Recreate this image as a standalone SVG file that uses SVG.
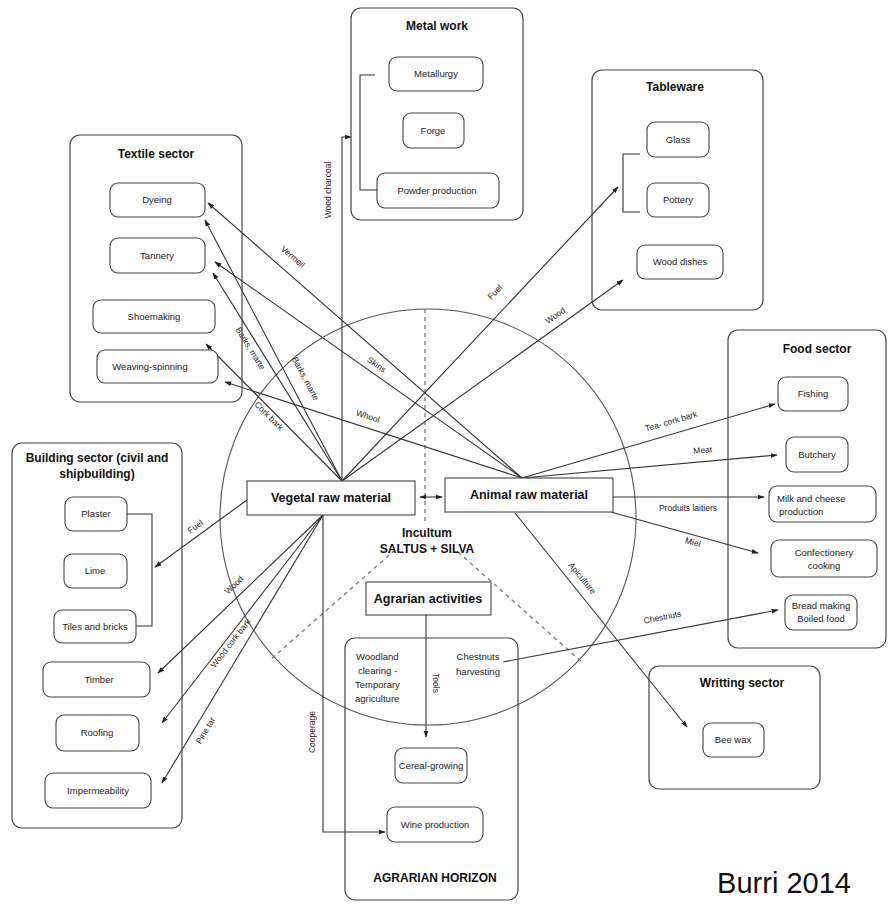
<svg xmlns="http://www.w3.org/2000/svg" width="892" height="905" viewBox="0 0 892 905">
<defs>
<marker id="ah" viewBox="0 0 10 10" refX="9" refY="5" markerWidth="7" markerHeight="7" orient="auto-start-reverse" markerUnits="userSpaceOnUse">
<path d="M0,1.5 L10,5 L0,8.5 z" fill="#222"/>
</marker>
<style>
.outer{fill:none;stroke:#444;stroke-width:1.2}
.inner{fill:#fff;stroke:#444;stroke-width:1.1}
.main{fill:#fff;stroke:#444;stroke-width:1.1}
.title{font-family:"Liberation Sans",Arial,sans-serif;font-weight:bold;font-size:12px;fill:#111;text-anchor:middle}
.big{font-family:"Liberation Sans",Arial,sans-serif;font-weight:bold;font-size:12.5px;fill:#111;text-anchor:middle}
.lbl{font-family:"Liberation Sans",Arial,sans-serif;font-size:9.5px;fill:#222;text-anchor:middle}
.cl{font-family:"Liberation Sans",Arial,sans-serif;font-size:8.5px;fill:#222;text-anchor:middle}
.con{fill:none;stroke:#333;stroke-width:1.1}
.arr{fill:none;stroke:#333;stroke-width:1.1;marker-end:url(#ah)}
.dash{fill:none;stroke:#777;stroke-width:1.3;stroke-dasharray:4 4}
</style>
</defs>
<rect width="892" height="905" fill="#fff"/>

<g id="circle">
<circle cx="428" cy="517" r="208" fill="none" stroke="#555" stroke-width="1.1"/>
<line class="dash" x1="425" y1="309" x2="425" y2="522"/>
<line class="dash" x1="395" y1="550" x2="270" y2="660"/>
<line class="dash" x1="458" y1="552" x2="583" y2="663"/>
</g>

<g id="connectors">
<line class="arr" x1="522" y1="478" x2="208" y2="203"/>
<line class="arr" x1="342" y1="481" x2="205" y2="220"/>
<line class="arr" x1="522" y1="478" x2="215" y2="262"/>
<line class="arr" x1="342" y1="481" x2="213" y2="273"/>
<line class="arr" x1="342" y1="481" x2="206" y2="344"/>
<line class="arr" x1="522" y1="478" x2="225" y2="382"/>
<path class="arr" d="M342,481 L342,137 L351,137"/>
<line class="arr" x1="342" y1="481" x2="618" y2="187"/>
<line class="arr" x1="342" y1="481" x2="623" y2="280"/>
<line class="arr" x1="522" y1="478" x2="775" y2="404"/>
<line class="arr" x1="522" y1="478" x2="777" y2="455"/>
<line class="arr" x1="613" y1="497" x2="764" y2="497"/>
<line class="arr" x1="611" y1="512" x2="758" y2="553"/>
<line class="arr" x1="515" y1="513" x2="687" y2="727"/>
<line class="arr" x1="503" y1="662" x2="778" y2="610"/>
<line class="arr" x1="247" y1="500" x2="155" y2="567"/>
<line class="arr" x1="323" y1="515" x2="158" y2="673"/>
<line class="arr" x1="323" y1="515" x2="162" y2="723"/>
<line class="arr" x1="323" y1="515" x2="162" y2="783"/>
<path class="arr" d="M323,515 L323,832 L385,832"/>
<line class="arr" x1="426" y1="615" x2="426" y2="737"/>
<line class="arr" x1="420" y1="497" x2="442" y2="497" marker-start="url(#ah)"/>
<path class="con" d="M375,75 L360,75 L360,190 L377,190"/>
<path class="con" d="M640,154 L623,154 L623,212 L640,212"/>
<path class="con" d="M127,514 L152,514 L152,626 L136,626"/>

<text class="cl" transform="translate(331,190) rotate(-90)">Wood charcoal</text>
<text class="cl" transform="translate(291,259) rotate(41)">Vermeil</text>
<text class="cl" transform="translate(248,350) rotate(58)">Barks, marte</text>
<text class="cl" transform="translate(303,380) rotate(62)">Barks, marte</text>
<text class="cl" transform="translate(267,418) rotate(45)">Cork bark</text>
<text class="cl" transform="translate(375,367) rotate(35)">Skins</text>
<text class="cl" transform="translate(367,419) rotate(18)">Whool</text>
<text class="cl" transform="translate(497,294) rotate(-46)">Fuel</text>
<text class="cl" transform="translate(557,318) rotate(-35)">Wood</text>
<text class="cl" transform="translate(672,424) rotate(-16)">Tea- cork bark</text>
<text class="cl" transform="translate(703,453) rotate(-5)">Meat</text>
<text class="cl" x="688" y="511">Produits laitiers</text>
<text class="cl" transform="translate(692,545) rotate(16)">Miel</text>
<text class="cl" transform="translate(580,580) rotate(51)">Apiculture</text>
<text class="cl" transform="translate(663,620) rotate(-11)">Chestnuts</text>
<text class="cl" transform="translate(197,529) rotate(-36)">Fuel</text>
<text class="cl" transform="translate(236,587) rotate(-44)">Wood</text>
<text class="cl" transform="translate(233,645) rotate(-52)">Wood cork bark</text>
<text class="cl" transform="translate(208,732) rotate(-59)">Pine tar</text>
<text class="cl" transform="translate(315,732) rotate(-90)">Cooperage</text>
<text class="cl" transform="translate(433,683) rotate(90)">Tools</text>
</g>

<g id="textile">
<rect class="outer" x="70" y="135" width="172" height="267" rx="10"/>
<text class="title" x="156" y="158">Textile sector</text>
</g>
<g id="dyeing"><rect class="inner" x="110" y="183" width="95" height="34" rx="8"/><text class="lbl" x="157" y="203">Dyeing</text></g>
<g id="tannery"><rect class="inner" x="110" y="238" width="95" height="35" rx="8"/><text class="lbl" x="157" y="259">Tannery</text></g>
<g id="shoemaking"><rect class="inner" x="93" y="300" width="122" height="33" rx="8"/><text class="lbl" x="154" y="320">Shoemaking</text></g>
<g id="weaving"><rect class="inner" x="97" y="350" width="121" height="33" rx="8"/><text class="lbl" x="150" y="370">Weaving-spinning</text></g>

<g id="metal">
<rect class="outer" x="351" y="8" width="172" height="212" rx="10"/>
<text class="title" x="437" y="30">Metal work</text>
</g>
<g id="metallurgy"><rect class="inner" x="389" y="57" width="94" height="34" rx="8"/><text class="lbl" x="436" y="77">Metallurgy</text></g>
<g id="forge"><rect class="inner" x="403" y="113" width="61" height="35" rx="8"/><text class="lbl" x="433" y="134">Forge</text></g>
<g id="powder"><rect class="inner" x="377" y="173" width="122" height="35" rx="8"/><text class="lbl" x="437" y="194">Powder production</text></g>

<g id="tableware">
<rect class="outer" x="592" y="70" width="171" height="240" rx="10"/>
<text class="title" x="675" y="91">Tableware</text>
</g>
<g id="glass"><rect class="inner" x="647" y="122" width="62" height="35" rx="8"/><text class="lbl" x="678" y="143">Glass</text></g>
<g id="pottery"><rect class="inner" x="647" y="183" width="62" height="34" rx="8"/><text class="lbl" x="678" y="203">Pottery</text></g>
<g id="wooddishes"><rect class="inner" x="637" y="245" width="86" height="34" rx="8"/><text class="lbl" x="680" y="265">Wood dishes</text></g>

<g id="food">
<rect class="outer" x="728" y="330" width="158" height="318" rx="10"/>
<text class="title" x="817" y="353">Food sector</text>
</g>
<g id="fishing"><rect class="inner" x="778" y="377" width="70" height="34" rx="8"/><text class="lbl" x="813" y="397">Fishing</text></g>
<g id="butchery"><rect class="inner" x="786" y="437" width="62" height="35" rx="8"/><text class="lbl" x="817" y="458">Butchery</text></g>
<g id="milk"><rect class="inner" x="769" y="486" width="107" height="36" rx="8"/><text class="lbl" x="777" y="502" style="text-anchor:start">Milk and cheese</text><text class="lbl" x="779" y="515" style="text-anchor:start">production</text></g>
<g id="confectionery"><rect class="inner" x="771" y="540" width="106" height="37" rx="8"/><text class="lbl" x="824" y="556">Confectionery</text><text class="lbl" x="824" y="569">cooking</text></g>
<g id="bread"><rect class="inner" x="785" y="595" width="72" height="35" rx="8"/><text class="lbl" x="821" y="609">Bread making</text><text class="lbl" x="821" y="622">Boiled food</text></g>

<g id="building">
<rect class="outer" x="12" y="443" width="170" height="385" rx="10"/>
<text class="title" x="97" y="462">Building sector (civil and</text>
<text class="title" x="97" y="478">shipbuilding)</text>
</g>
<g id="plaster"><rect class="inner" x="65" y="497" width="62" height="34" rx="8"/><text class="lbl" x="96" y="517">Plaster</text></g>
<g id="lime"><rect class="inner" x="64" y="554" width="63" height="34" rx="8"/><text class="lbl" x="95" y="574">Lime</text></g>
<g id="tiles"><rect class="inner" x="54" y="610" width="82" height="33" rx="8"/><text class="lbl" x="95" y="630">Tiles and bricks</text></g>
<g id="timber"><rect class="inner" x="43" y="662" width="107" height="35" rx="8"/><text class="lbl" x="99" y="683">Timber</text></g>
<g id="roofing"><rect class="inner" x="56" y="715" width="83" height="36" rx="8"/><text class="lbl" x="97" y="736">Roofing</text></g>
<g id="impermeability"><rect class="inner" x="45" y="773" width="106" height="35" rx="8"/><text class="lbl" x="98" y="794">Impermeability</text></g>

<g id="writting">
<rect class="outer" x="649" y="666" width="171" height="123" rx="10"/>
<text class="title" x="742" y="687">Writting sector</text>
</g>
<g id="beewax"><rect class="inner" x="703" y="723" width="61" height="34" rx="8"/><text class="lbl" x="733" y="743">Bee wax</text></g>

<g id="agrarian-horizon">
<rect class="outer" x="345" y="638" width="173" height="262" rx="10"/>
<text class="lbl" x="356" y="660" style="text-anchor:start">Woodland</text>
<text class="lbl" x="358" y="674" style="text-anchor:start">clearing -</text>
<text class="lbl" x="355" y="688" style="text-anchor:start">Temporary</text>
<text class="lbl" x="355" y="702" style="text-anchor:start">agriculture</text>
<text class="lbl" x="478" y="660">Chestnuts</text>
<text class="lbl" x="478" y="675">harvesting</text>
<text class="title" x="435" y="882">AGRARIAN HORIZON</text>
</g>
<g id="cereal"><rect class="inner" x="395" y="748" width="72" height="35" rx="8"/><text class="lbl" x="431" y="769">Cereal-growing</text></g>
<g id="wine"><rect class="inner" x="387" y="807" width="96" height="35" rx="8"/><text class="lbl" x="435" y="828">Wine production</text></g>

<g id="vegetal"><rect class="main" x="247" y="481" width="168" height="34"/><text class="big" x="331" y="502">Vegetal raw material</text></g>
<g id="animal"><rect class="main" x="445" y="478" width="168" height="34"/><text class="big" x="529" y="499">Animal raw material</text></g>
<g id="incultum"><text class="title" x="427" y="537">Incultum</text><text class="title" x="427" y="553">SALTUS + SILVA</text></g>
<g id="agrarian-activities"><rect class="main" x="366" y="582" width="125" height="33"/><text class="big" x="428" y="603">Agrarian activities</text></g>

<text x="784" y="893" font-family="'Liberation Sans',Arial,sans-serif" font-size="29" fill="#111" text-anchor="middle">Burri 2014</text>
</svg>
